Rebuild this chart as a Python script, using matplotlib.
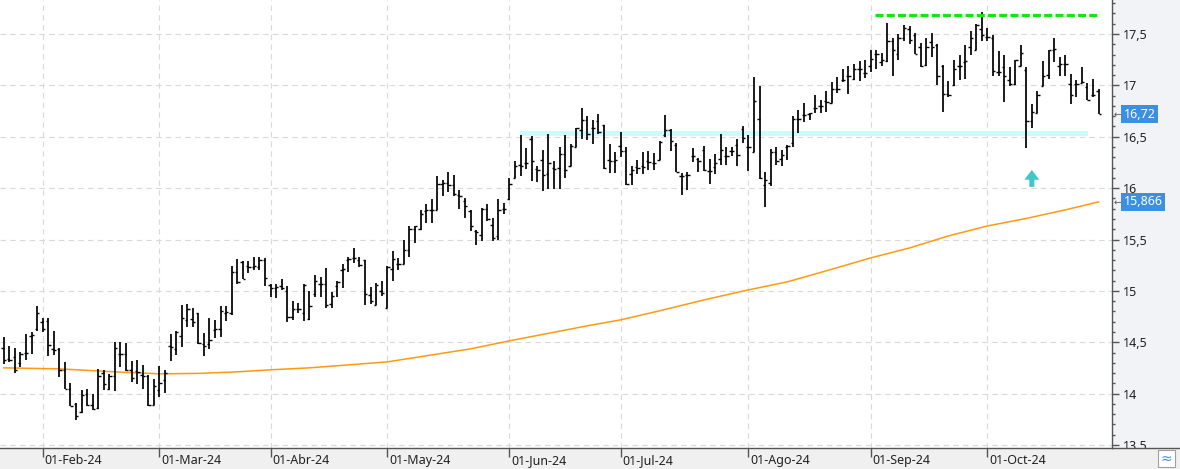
import numpy as np
import pandas as pd
import matplotlib
matplotlib.use('Agg')
import matplotlib.pyplot as plt
from matplotlib.patches import Rectangle, Polygon
from matplotlib.lines import Line2D
from matplotlib.transforms import blended_transform_factory, ScaledTranslation, Bbox, TransformedBbox
from matplotlib.ticker import MultipleLocator, FuncFormatter

plt.rcParams['font.family'] = ['Noto Sans', 'DejaVu Sans']
plt.rcParams['lines.scale_dashes'] = False

# ---------------- data ----------------
dates = pd.bdate_range('2024-01-23', '2024-10-29')
holidays = pd.to_datetime(['2024-03-29', '2024-04-01', '2024-05-01'])
dates = dates[~dates.isin(holidays)]

opens = [14.44, 14.34, 14.36, 14.30, 14.40, 14.56, 14.63, 14.70, 14.71, 14.43,
         14.43, 14.23, 14.05, 13.90, 13.82, 14.00, 13.89, 13.86, 14.20, 14.05,
         14.17, 14.39, 14.39, 14.23, 14.22, 14.18, 14.17, 13.89, 14.04, 14.13,
         14.46, 14.43, 14.56, 14.72, 14.73, 14.78, 14.48, 14.48, 14.62, 14.63,
         14.78, 14.78, 15.18, 15.28, 15.24, 15.23, 15.23, 15.30, 15.06, 15.03,
         15.05, 15.00, 14.75, 14.82, 14.78, 14.73, 14.97, 15.07, 15.07, 14.87,
         15.05, 15.20, 15.30, 15.32, 15.30, 15.30, 14.96, 14.86, 15.00, 14.83,
         15.21, 15.26, 15.26, 15.40, 15.60, 15.60, 15.78, 15.79, 15.79, 16.04,
         16.05, 16.03, 15.93, 15.87, 15.78, 15.58, 15.54, 15.80, 15.64, 15.53,
         15.80, 15.89, 16.10, 16.23, 16.24, 16.48, 16.19, 16.27, 16.14, 16.20,
         16.20, 16.33, 16.22, 16.40, 16.57, 16.66, 16.59, 16.65, 16.61, 16.27,
         16.26, 16.41, 16.36, 16.14, 16.21, 16.22, 16.26, 16.24, 16.27, 16.52,
         16.57, 16.42, 16.12, 16.13, 16.31, 16.28, 16.37, 16.17, 16.21, 16.28,
         16.31, 16.36, 16.42, 16.58, 16.40, 16.35, 16.67, 16.03, 16.05, 16.35,
         16.28, 16.40, 16.44, 16.67, 16.71, 16.72, 16.78, 16.80, 16.85, 16.83,
         16.96, 17.05, 17.09, 17.06, 17.16, 17.12, 17.19, 17.31, 17.23, 17.24,
         17.43, 17.31, 17.46, 17.55, 17.49, 17.37, 17.20, 17.42, 17.39, 17.19,
         16.92, 17.00, 17.19, 17.23, 17.37, 17.34, 17.55, 17.47, 17.46, 17.13,
         17.18, 17.05, 17.01, 17.19, 17.15, 16.65, 16.73, 16.99, 17.10, 17.34,
         17.19, 17.21, 17.01, 17.01, 17.02, 16.98, 16.91, 16.95]
highs = [14.55, 14.46, 14.44, 14.41, 14.58, 14.60, 14.85, 14.74, 14.74, 14.61,
         14.44, 14.31, 14.10, 13.91, 14.04, 14.05, 14.00, 14.24, 14.23, 14.19,
         14.50, 14.50, 14.49, 14.32, 14.33, 14.28, 14.18, 14.14, 14.27, 14.23,
         14.58, 14.61, 14.86, 14.87, 14.83, 14.78, 14.59, 14.74, 14.72, 14.85,
         14.85, 15.24, 15.31, 15.29, 15.29, 15.33, 15.33, 15.32, 15.07, 15.07,
         15.12, 15.05, 14.90, 14.88, 15.07, 15.00, 15.15, 15.14, 15.22, 14.99,
         15.10, 15.26, 15.33, 15.42, 15.33, 15.30, 15.04, 15.08, 15.10, 15.24,
         15.39, 15.32, 15.50, 15.63, 15.63, 15.79, 15.85, 15.89, 16.12, 16.08,
         16.16, 16.13, 15.98, 15.90, 15.79, 15.59, 15.81, 15.85, 15.71, 15.89,
         15.86, 16.10, 16.26, 16.52, 16.39, 16.51, 16.22, 16.37, 16.53, 16.26,
         16.40, 16.52, 16.43, 16.59, 16.78, 16.70, 16.66, 16.72, 16.61, 16.43,
         16.35, 16.55, 16.40, 16.22, 16.27, 16.35, 16.36, 16.34, 16.46, 16.71,
         16.58, 16.44, 16.15, 16.16, 16.39, 16.29, 16.41, 16.28, 16.33, 16.53,
         16.40, 16.40, 16.48, 16.60, 16.52, 17.08, 16.99, 16.16, 16.38, 16.40,
         16.37, 16.42, 16.70, 16.76, 16.83, 16.73, 16.91, 16.86, 16.95, 17.03,
         17.08, 17.16, 17.19, 17.21, 17.24, 17.25, 17.34, 17.34, 17.32, 17.61,
         17.46, 17.50, 17.59, 17.58, 17.51, 17.41, 17.46, 17.51, 17.40, 17.20,
         17.04, 17.25, 17.30, 17.39, 17.53, 17.60, 17.71, 17.56, 17.49, 17.33,
         17.30, 17.18, 17.25, 17.39, 17.18, 16.82, 16.95, 17.24, 17.34, 17.46,
         17.28, 17.30, 17.11, 17.05, 17.18, 17.02, 17.06, 16.96]
lows = [14.29, 14.31, 14.20, 14.26, 14.33, 14.39, 14.61, 14.60, 14.37, 14.38,
        14.16, 14.05, 13.88, 13.74, 13.81, 13.88, 13.84, 13.85, 14.04, 14.04,
        14.03, 14.26, 14.22, 14.11, 14.09, 14.05, 13.88, 13.89, 13.97, 14.01,
        14.32, 14.38, 14.45, 14.65, 14.65, 14.48, 14.37, 14.43, 14.54, 14.55,
        14.71, 14.77, 15.07, 15.12, 15.17, 15.20, 15.20, 15.05, 14.94, 14.93,
        15.01, 14.70, 14.72, 14.78, 14.71, 14.72, 14.94, 14.94, 14.83, 14.83,
        14.94, 15.03, 15.18, 15.27, 15.23, 14.86, 14.87, 14.86, 14.95, 14.83,
        15.10, 15.20, 15.26, 15.33, 15.47, 15.59, 15.66, 15.66, 15.79, 15.92,
        15.96, 15.92, 15.80, 15.71, 15.58, 15.45, 15.49, 15.68, 15.49, 15.50,
        15.75, 15.88, 16.10, 16.12, 16.19, 16.07, 16.06, 15.97, 15.99, 15.99,
        15.99, 16.10, 16.22, 16.40, 16.48, 16.47, 16.43, 16.53, 16.19, 16.15,
        16.15, 16.30, 16.03, 16.03, 16.14, 16.14, 16.18, 16.18, 16.27, 16.50,
        16.36, 16.16, 15.93, 15.98, 16.25, 16.16, 16.17, 16.04, 16.14, 16.23,
        16.23, 16.31, 16.22, 16.44, 16.17, 16.35, 16.09, 15.82, 16.02, 16.23,
        16.22, 16.27, 16.40, 16.54, 16.64, 16.66, 16.73, 16.73, 16.74, 16.83,
        16.93, 17.03, 16.92, 17.05, 17.04, 17.07, 17.13, 17.16, 17.19, 17.23,
        17.09, 17.25, 17.43, 17.40, 17.31, 17.18, 17.19, 17.28, 17.00, 16.74,
        16.89, 16.99, 17.05, 17.06, 17.30, 17.34, 17.43, 17.43, 17.09, 17.09,
        16.84, 16.99, 17.00, 17.19, 16.39, 16.59, 16.73, 16.99, 17.06, 17.23,
        17.09, 17.09, 16.82, 16.89, 17.02, 16.86, 16.89, 16.72]
closes = [14.33, 14.33, 14.23, 14.39, 14.40, 14.57, 14.78, 14.63, 14.47, 14.42,
          14.23, 14.05, 13.88, 13.78, 13.99, 13.89, 13.85, 14.17, 14.09, 14.17,
          14.44, 14.39, 14.23, 14.15, 14.21, 14.17, 13.89, 14.07, 14.10, 14.20,
          14.45, 14.60, 14.74, 14.82, 14.70, 14.49, 14.46, 14.52, 14.63, 14.80,
          14.79, 15.18, 15.09, 15.12, 15.23, 15.24, 15.30, 15.13, 15.03, 15.04,
          15.03, 14.75, 14.82, 14.82, 15.06, 14.85, 15.10, 15.07, 14.86, 14.95,
          15.09, 15.21, 15.31, 15.32, 15.25, 14.97, 14.90, 15.06, 14.98, 15.23,
          15.31, 15.26, 15.40, 15.60, 15.63, 15.75, 15.79, 15.79, 16.04, 16.05,
          16.03, 15.94, 15.92, 15.83, 15.63, 15.57, 15.80, 15.70, 15.51, 15.79,
          15.80, 16.04, 16.22, 16.22, 16.24, 16.26, 16.18, 16.13, 16.24, 16.19,
          16.33, 16.18, 16.41, 16.59, 16.66, 16.53, 16.59, 16.55, 16.20, 16.26,
          16.27, 16.36, 16.04, 16.18, 16.20, 16.21, 16.25, 16.24, 16.45, 16.57,
          16.46, 16.16, 16.12, 16.13, 16.31, 16.26, 16.18, 16.17, 16.24, 16.37,
          16.31, 16.36, 16.32, 16.49, 16.40, 16.85, 16.10, 16.08, 16.35, 16.26,
          16.32, 16.41, 16.67, 16.67, 16.71, 16.73, 16.78, 16.80, 16.84, 16.96,
          16.96, 17.05, 17.09, 17.16, 17.16, 17.12, 17.26, 17.31, 17.25, 17.43,
          17.34, 17.46, 17.56, 17.44, 17.31, 17.19, 17.37, 17.37, 17.09, 16.92,
          16.91, 17.16, 17.19, 17.24, 17.46, 17.59, 17.49, 17.47, 17.14, 17.13,
          17.09, 17.01, 17.25, 17.32, 16.65, 16.74, 16.91, 17.09, 17.34, 17.35,
          17.21, 17.21, 16.91, 17.01, 17.03, 16.86, 16.91, 16.72]

# moving average (read at selected bars)
ma_idx = [0, 10, 20, 28, 35, 42, 48, 55, 62, 69, 76, 84, 91, 98, 105, 111,
          118, 126, 134, 141, 148, 156, 163, 170, 177, 184, 191, 197]
ma_val = [14.251, 14.241, 14.212, 14.193, 14.197, 14.212, 14.232, 14.251, 14.28,
          14.309, 14.368, 14.436, 14.514, 14.587, 14.66, 14.718, 14.806, 14.912,
          15.01, 15.088, 15.195, 15.321, 15.418, 15.535, 15.632, 15.705, 15.788,
          15.866]

month_numbers = [2, 3, 4, 5, 6, 7, 8, 9, 10]
month_labels = ['01-Feb-24', '01-Mar-24', '01-Abr-24', '01-May-24', '01-Jun-24',
                '01-Jul-24', '01-Ago-24', '01-Sep-24', '01-Oct-24']

resistance_level = 17.685
resistance_span = (156.8, 197.3)
support_lo, support_hi = 16.503, 16.556
support_span = (92.9, 195.1)
signal_idx = 185
signal_tip, signal_base = 16.177, 16.012

# ---------------- figure ----------------
W, H = 1180, 469
fig = plt.figure(figsize=(W / 100, H / 100), dpi=100)
fig.patch.set_facecolor('#f0f0f0')
plot_w, plot_b = 1112, 21
fig.patches.append(Rectangle((plot_w / W, plot_b / H), (W - plot_w) / W, (H - plot_b) / H,
                             transform=fig.transFigure, fc='#f1f3f6', ec='none', zorder=-5))
ax = fig.add_axes([0, plot_b / H, plot_w / W, (H - plot_b) / H])
ax.set_facecolor('white')

x = np.arange(len(dates))
o = np.array(opens); h = np.array(highs); l = np.array(lows); c = np.array(closes)

# support band
ax.fill_between(support_span, support_lo, support_hi, color='#ccfbff', lw=0, zorder=2)
# MA
ax.plot(ma_idx, ma_val, color='#ff9a10', lw=1.1, zorder=3)
# OHLC
ax.vlines(x, l, h, color='black', lw=1.25, zorder=4)
ax.hlines(o, x - 0.42, x, color='black', lw=1.0, zorder=4)
ax.hlines(c, x, x + 0.42, color='black', lw=1.0, zorder=4)
# resistance
ax.plot(resistance_span, [resistance_level] * 2, color='#14e614', lw=2.3,
        dashes=(5.8, 2.3), zorder=5, solid_capstyle='butt', dash_capstyle='butt')
# signal arrow
hw, sw, hh = 1.35, 0.45, 0.095
ax.add_patch(Polygon([(signal_idx, signal_tip), (signal_idx + hw, signal_tip - hh),
                      (signal_idx + sw, signal_tip - hh), (signal_idx + sw, signal_base),
                      (signal_idx - sw, signal_base), (signal_idx - sw, signal_tip - hh),
                      (signal_idx - hw, signal_tip - hh)],
                     closed=True, fc='#40c8c8', ec='none', zorder=6))

ax.set_xlim(-0.684, (plot_w - 3.8) / 5.557)
ax.set_ylim(13.471, 17.831)

# axes styling
for s in ['left', 'top']:
    ax.spines[s].set_visible(False)
ax.spines['right'].set_color('#555555')
ax.spines['bottom'].set_color('#555555')
ax.spines['right'].set_linewidth(1.0)
ax.spines['bottom'].set_linewidth(1.0)
fig.add_artist(Line2D([plot_w / W, 1], [plot_b / H + 0.0005] * 2, transform=fig.transFigure,
                      color='#555555', lw=1.0))

ax.yaxis.tick_right()
ax.yaxis.set_major_locator(MultipleLocator(0.5))
ax.yaxis.set_minor_locator(MultipleLocator(0.1))
ax.yaxis.set_major_formatter(FuncFormatter(lambda v, p: f'{v:g}'.replace('.', ',')))
ax.tick_params(axis='y', which='major', length=5, width=1, color='#555555',
               labelcolor='#222222', labelsize=9, pad=2.5)
ax.tick_params(axis='y', which='minor', length=2.5, width=1, color='#555555')

month_pos = [int(np.argmax(dates.month == m)) for m in month_numbers]
ax.set_xticks(month_pos)
ax.set_xticklabels(month_labels)
ax.tick_params(axis='x', length=6.5, width=1, color='#555555', labelcolor='#222222',
               labelsize=9, pad=-2.5)
shift = ScaledTranslation(2 / 100, 0, fig.dpi_scale_trans)
for lab in ax.get_xticklabels():
    lab.set_ha('left')
    lab.set_transform(lab.get_transform() + shift)

ax.grid(True, color='#dadada', lw=0.8, linestyle=(0, (4, 3)))
ax.set_axisbelow(True)

# right labels are cut at the bottom of the plot area (as in the original)
clipbox = TransformedBbox(Bbox([[0, plot_b / H], [1, 1]]), fig.transFigure)
for t in ax.yaxis.get_major_ticks():
    t.label2.set_clip_box(clipbox)
    t.label2.set_clip_on(True)

# last-value boxes
bt = blended_transform_factory(ax.transAxes, ax.transData)
for val, txt in [(c[-1], f'{c[-1]:.2f}'.replace('.', ',')),
                 (ma_val[-1], f'{ma_val[-1]:.3f}'.replace('.', ','))]:
    ax.text(1.0105, val, txt, transform=bt, ha='left', va='center', color='white', fontsize=9,
            bbox=dict(boxstyle='square,pad=0.18', fc='#3d8fe0', ec='none'),
            zorder=10, clip_on=False)
    ax.text(1.0045, val, '←', transform=bt, ha='center', va='center', color='#555555',
            fontsize=6.5, family='DejaVu Sans', clip_on=False, zorder=11)

# bottom-right icon
fig.patches.append(Rectangle((1158 / W, 2 / H), 17 / W, 17 / H, transform=fig.transFigure,
                             fc='white', ec='#a0a0a0', lw=0.8))
fig.text(1166.5 / W, 10.5 / H, '≈', ha='center', va='center', color='#4a90d9', fontsize=10,
         family='DejaVu Sans')

fig.savefig('out.png', dpi=100, facecolor=fig.get_facecolor())
